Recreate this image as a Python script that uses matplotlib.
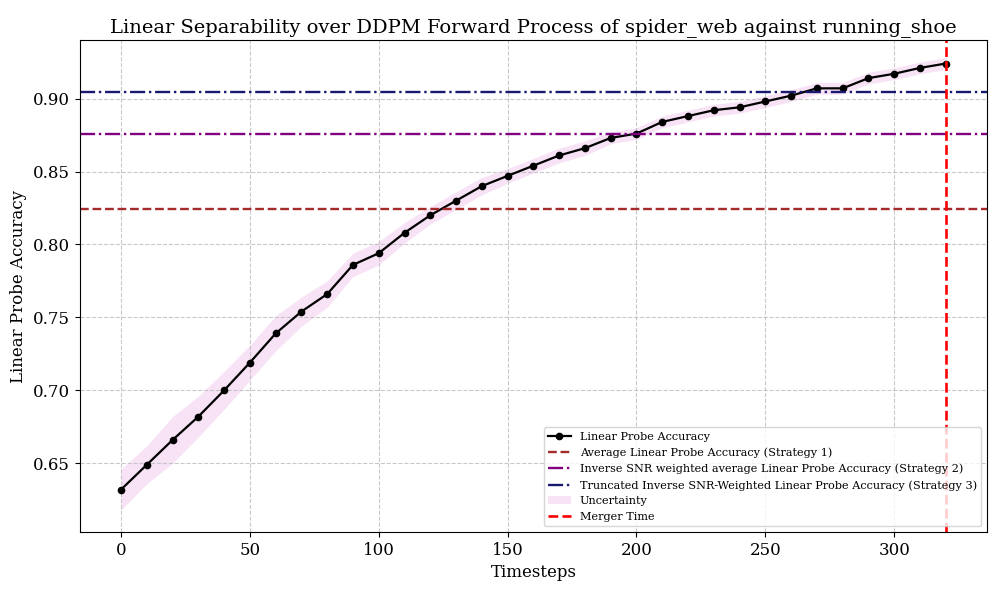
import numpy as np
import matplotlib
matplotlib.use("Agg")
import matplotlib.pyplot as plt

plt.rcParams['font.family'] = 'DejaVu Serif'

timesteps = list(range(0, 330, 10))
accuracy = [0.632, 0.649, 0.666, 0.682, 0.700, 0.719, 0.739, 0.754, 0.766, 0.786,
            0.794, 0.808, 0.820, 0.830, 0.840, 0.847, 0.854, 0.861, 0.866, 0.873,
            0.876, 0.884, 0.888, 0.892, 0.894, 0.898, 0.902, 0.907, 0.907, 0.914,
            0.917, 0.921, 0.924]
uncertainty = [0.014, 0.013, 0.016, 0.014, 0.013, 0.012, 0.012, 0.010, 0.009, 0.008,
               0.008, 0.007, 0.006, 0.006, 0.006, 0.005, 0.005, 0.005, 0.005, 0.004,
               0.004, 0.004, 0.004, 0.004, 0.004, 0.004, 0.004, 0.004, 0.004, 0.004,
               0.004, 0.004, 0.004]
strategy1 = 0.8245
strategy2 = 0.876
strategy3 = 0.9045
merger_time = 320

t = np.array(timesteps)
acc = np.array(accuracy)
unc = np.array(uncertainty)

fig, ax = plt.subplots(figsize=(9.97, 5.91), dpi=100)
ax.plot(t, acc, color='black', marker='o', markersize=4.5, linewidth=1.6, label='Linear Probe Accuracy')
ax.axhline(strategy1, color='brown', linestyle='--', linewidth=1.7, label='Average Linear Probe Accuracy (Strategy 1)')
ax.axhline(strategy2, color='purple', linestyle='-.', linewidth=1.7,
           label='Inverse SNR weighted average Linear Probe Accuracy (Strategy 2)')
ax.axhline(strategy3, color='midnightblue', linestyle='-.', linewidth=1.7,
           label='Truncated Inverse SNR-Weighted Linear Probe Accuracy (Strategy 3)')
ax.fill_between(t, acc - unc, acc + unc, color='orchid', alpha=0.2, linewidth=0, label='Uncertainty')
ax.axvline(merger_time, color='red', linestyle='--', linewidth=1.9, label='Merger Time')

ax.set_ylim(0.603, 0.940)
ax.grid(True, linestyle='--', color='#bbbbbb', alpha=0.8)
ax.set_title('Linear Separability over DDPM Forward Process of spider_web against running_shoe', fontsize=14)
ax.set_xlabel('Timesteps', fontsize=12)
ax.set_ylabel('Linear Probe Accuracy', fontsize=12)
ax.tick_params(labelsize=12)
ax.legend(loc='lower right', fontsize=8.1)

fig.subplots_adjust(left=0.080, right=0.990, top=0.932, bottom=0.100)
fig.savefig('out.png', dpi=100)
